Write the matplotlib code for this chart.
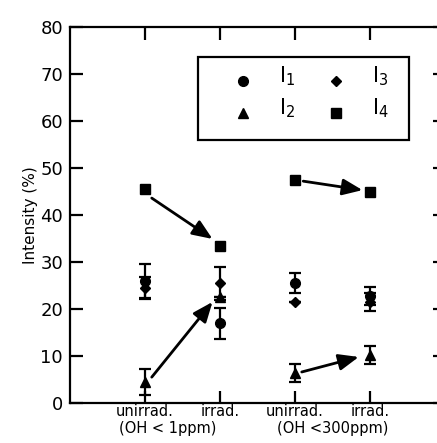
import matplotlib.pyplot as plt
from matplotlib.patches import Rectangle

plt.rcParams['font.family'] = ['DejaVu Sans']
plt.rcParams['mathtext.fontset'] = 'dejavusans'

# 試料の位置とラベル
positions = [1, 2, 3, 4]
tick_labels = ['unirrad.', 'irrad.', 'unirrad.', 'irrad.']
group_labels = ['(OH < 1ppm)', '(OH <300ppm)']
group_x = [1.3, 3.5]

# 各成分の強度 (%) と誤差
I1 = [26.0, 17.0, 25.5, 22.8]
I1_err = [3.6, 3.3, 2.2, 1.9]
I2 = [4.5, 22.5, 6.4, 10.2]
I2_err = [2.8, 0.0, 1.9, 1.9]
I3 = [24.5, 25.5, 21.5, 21.5]
I3_err = [2.4, 3.5, 0.0, 1.9]
I4 = [45.5, 33.5, 47.4, 44.9]

# 矢印 (始点 -> 終点)
arrow_x0 = [1.09, 1.09, 3.11, 3.09]
arrow_y0 = [43.6, 5.5, 47.2, 6.6]
arrow_x1 = [1.90, 1.90, 3.90, 3.85]
arrow_y1 = [34.9, 21.5, 45.3, 9.8]

fig = plt.figure(figsize=(4.37, 4.43), dpi=100)
ax = fig.add_axes([70 / 437, 40 / 443, 375 / 437, 376 / 443])

eb = dict(ls='none', color='black', ecolor='black', elinewidth=1.6, capsize=4.5, capthick=1.6)
ax.errorbar(positions, I1, yerr=I1_err, marker='o', ms=7, **eb)
ax.errorbar(positions, I3, yerr=I3_err, marker='D', ms=5.5, **eb)
ax.errorbar(positions, I2, yerr=I2_err, marker='^', ms=7.5, **eb)
ax.plot(positions, I4, ls='none', marker='s', ms=7, color='black')

for x0, y0, x1, y1 in zip(arrow_x0, arrow_y0, arrow_x1, arrow_y1):
    ax.annotate('', xy=(x1, y1), xytext=(x0, y0),
                arrowprops=dict(arrowstyle='-|>,head_length=1.1,head_width=0.45',
                                lw=2, color='black', shrinkA=0, shrinkB=0,
                                mutation_scale=11))

ax.set_xlim(0, 5)
ax.set_ylim(0, 80)
ax.set_yticks(range(0, 81, 10))
ax.set_xticks(positions)
ax.set_xticklabels(tick_labels, fontsize=10.5)
for gx, gl in zip(group_x, group_labels):
    ax.text(gx, -0.047, gl, transform=ax.get_xaxis_transform(), ha='center', va='top', fontsize=10.5)

ax.tick_params(axis='both', direction='in', length=9, width=1.6, top=True, right=True)
ax.tick_params(axis='y', labelsize=13, pad=5)
ax.tick_params(axis='x', pad=1)
for s in ax.spines.values():
    s.set_linewidth(1.6)
ax.set_ylabel('Intensity (%)', fontsize=11, labelpad=2)

# 凡例 (手描き)
ax.add_patch(Rectangle((0.341, 0.70), 0.563, 0.22, transform=ax.transAxes,
                       fill=False, lw=1.6, color='black'))
leg_items = [('o', 7, '$\\mathrm{I}_1$', 0.462, 0.857), ('^', 7.5, '$\\mathrm{I}_2$', 0.462, 0.772),
             ('D', 5.5, '$\\mathrm{I}_3$', 0.71, 0.857), ('s', 7, '$\\mathrm{I}_4$', 0.71, 0.772)]
for m, ms, lab, lx, ly in leg_items:
    ax.plot([lx], [ly], marker=m, ms=ms, color='black', transform=ax.transAxes)
    ax.text(lx + 0.095, ly + 0.012, lab, transform=ax.transAxes, fontsize=15, va='center', ha='left')

fig.savefig('out.png', dpi=100)
